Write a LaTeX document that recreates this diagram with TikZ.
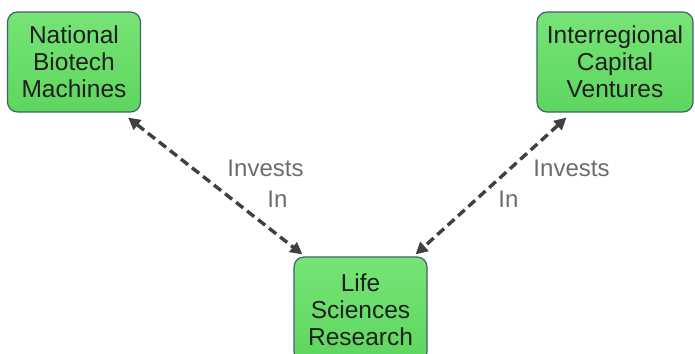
\documentclass[tikz,border=0pt]{standalone}
\usepackage{fontspec}
\setmainfont{Liberation Sans}
\usetikzlibrary{arrows.meta}
\definecolor{boxtop}{RGB}{118,228,118}
\definecolor{boxbottom}{RGB}{94,214,94}
\definecolor{boxedge}{RGB}{62,98,112}
\definecolor{linkgray}{RGB}{64,64,64}
\definecolor{labelgray}{RGB}{108,108,108}
\begin{document}
\begin{tikzpicture}[x=1pt, y=-1pt,
    main/.style={rectangle, draw=boxedge, line width=1.2pt, rounded corners=10pt,
        top color=boxtop, bottom color=boxbottom, align=center, inner sep=0pt,
        text=black!88, font=\fontsize{24.5}{27}\selectfont},
    link/.style={draw=linkgray, line width=3.4pt, dash pattern=on 9pt off 5pt,
        {Triangle[length=12pt,width=12pt]}-{Triangle[length=12pt,width=12pt]}},
    lbl/.style={text=labelgray, align=left, inner sep=0pt, font=\fontsize{24}{31}\selectfont}]
        \useasboundingbox (0,0) rectangle (695,353);
        \node[main, minimum width=133pt, minimum height=100pt] (1) at (74,62) {National\\Biotech\\Machines};
        \node[main, minimum width=156pt, minimum height=100pt] (2) at (615,62) {Interregional\\Capital\\Ventures};
        \node[main, minimum width=133pt, minimum height=105pt] (3) at (360.5,309.5) {Life\\Sciences\\Research};
        \draw[link] ([xshift=-13pt,yshift=-5pt]1.south east) -- ([xshift=9pt,yshift=2pt]3.north west);
        \draw[link] ([xshift=30pt,yshift=-5pt]2.south west) -- ([xshift=-12pt,yshift=2pt]3.north east);
        \node[lbl] (4) at (265.5,184) {Invests\\\hspace*{40pt}In};
        \node[lbl] (5) at (554,184) {\hspace*{35pt}Invests\\In};
    \end{tikzpicture}
\end{document}
